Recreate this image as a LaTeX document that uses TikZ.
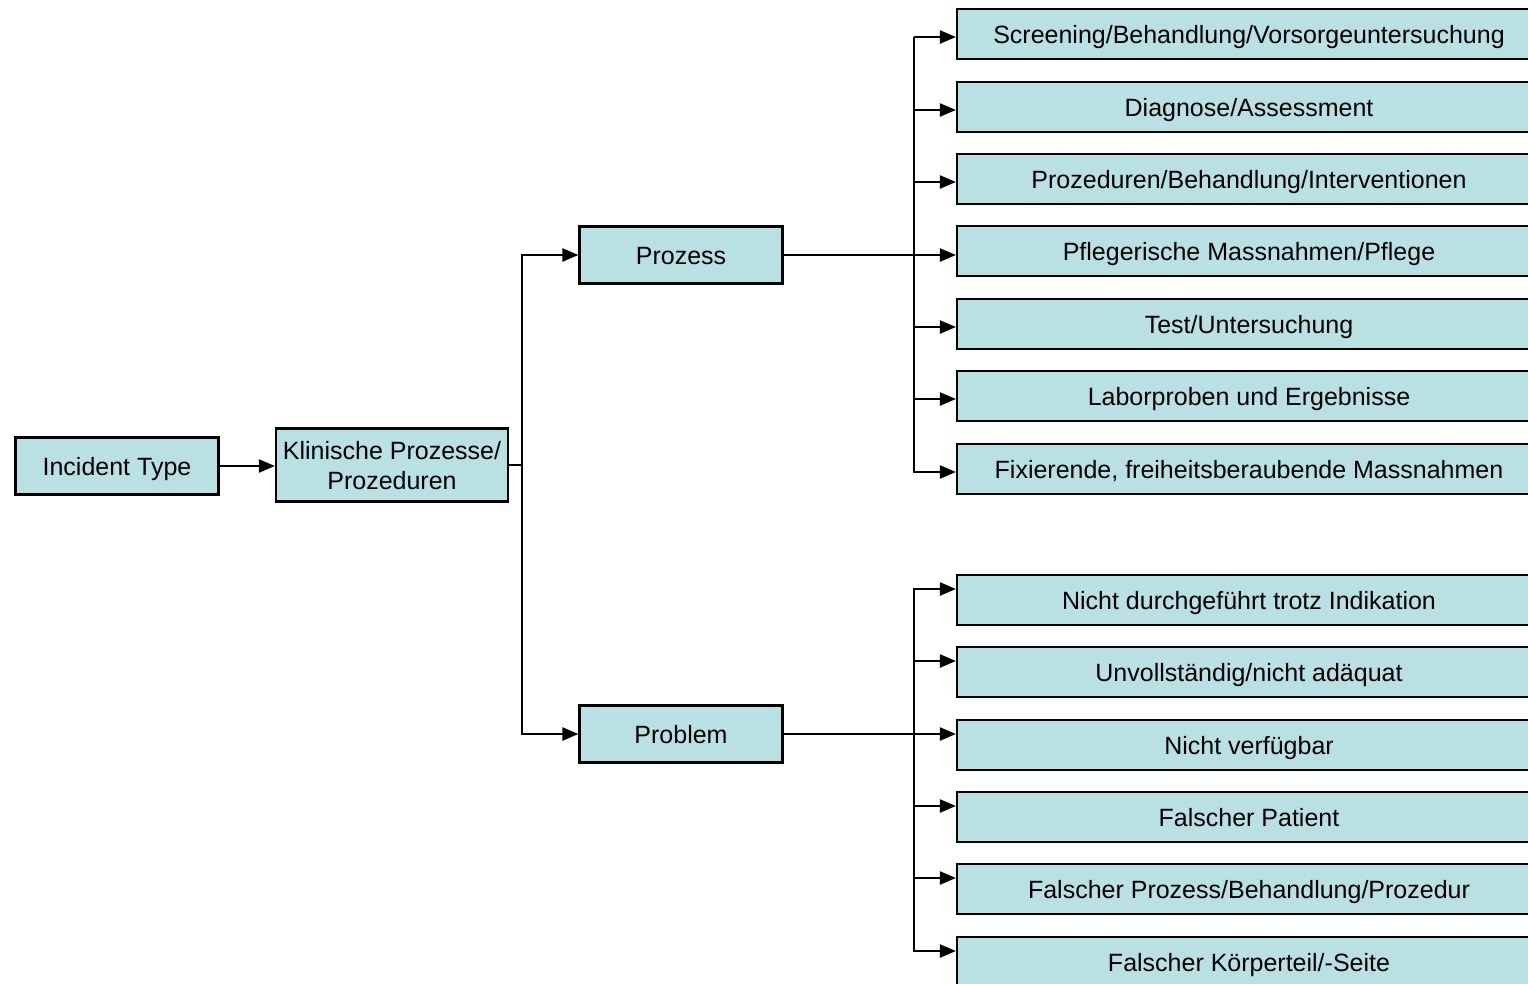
\documentclass[tikz,border=0pt]{standalone}
\usepackage{fontspec}
\setmainfont{Liberation Sans}
\usetikzlibrary{arrows.meta,calc}
\definecolor{boxfill}{RGB}{185,224,227}
\begin{document}
\begin{tikzpicture}[x=1pt,y=-1pt,
  box/.style={draw=black,line width=2.2pt,fill=boxfill,inner sep=0pt,align=center,
    text height=18pt,text depth=0pt,
    font=\fontsize{25pt}{30pt}\selectfont},
  leftbox/.style={box,minimum width=203pt,minimum height=57pt},
  rbox/.style={box,minimum width=584pt,minimum height=50pt},
  conn/.style={line width=2.3pt},
  arr/.style={conn,-{Triangle[length=16pt,width=13pt]}}]
\clip (0,0) rectangle (1528,983);
\fill[white] (0,0) rectangle (1528,983);
% left column
\node[leftbox] (it) at (117,466) {Incident Type};
\node[box,minimum width=232pt,minimum height=73pt,text height=48pt] (kp) at (392,465) {Klinische Prozesse/\\Prozeduren};
\node[leftbox] (pz) at (681,255) {Prozess};
\node[leftbox] (pb) at (681,734) {Problem};
% right column (process)
\node[rbox] (a1) at (1249,34) {Screening/Behandlung/Vorsorgeuntersuchung};
\node[rbox] (a2) at (1249,107) {Diagnose/Assessment};
\node[rbox] (a3) at (1249,179) {Prozeduren/Behandlung/Interventionen};
\node[rbox] (a4) at (1249,251) {Pflegerische Massnahmen/Pflege};
\node[rbox] (a5) at (1249,324) {Test/Untersuchung};
\node[rbox] (a6) at (1249,396) {Laborproben und Ergebnisse};
\node[rbox] (a7) at (1249,469) {Fixierende, freiheitsberaubende Massnahmen};
% right column (problem)
\node[rbox] (b1) at (1249,600) {Nicht durchgeführt trotz Indikation};
\node[rbox] (b2) at (1249,672) {Unvollständig/nicht adäquat};
\node[rbox] (b3) at (1249,745) {Nicht verfügbar};
\node[rbox] (b4) at (1249,817) {Falscher Patient};
\node[rbox] (b5) at (1249,889) {Falscher Prozess/Behandlung/Prozedur};
\node[rbox] (b6) at (1249,962) {Falscher Körperteil/-Seite};
% trunks
\coordinate (t1) at (522,255);
\coordinate (t2) at (522,734);
\coordinate (va) at (914,38);
\coordinate (vb) at (914,472);
\coordinate (vc) at (914,589);
\coordinate (vd) at (914,951);
% arrow end points on the boxes
\foreach \n in {a1,a2,a3,a4,a5,a6,a7}{
  \path ($(\n.west)+(0,3)$) coordinate (e\n);
}
\foreach \n in {b1,b2,b3,b4,b5,b6}{
  \path ($(\n.west)+(0,-11)$) coordinate (e\n);
}
% connectors
\draw[arr] (it.east) -- (it.east -| kp.west);
\draw[conn] (kp.east) -- (kp.east -| t1);
\draw[conn,line cap=rect] (t1) -- (t2);
\draw[arr] (t1) -- (pz.west);
\draw[arr] (t2) -- (pb.west);
\draw[arr] (pz.east) -- (pz.east -| ea4);
\draw[arr] (pb.east) -- (pb.east -| eb3);
\draw[conn,line cap=rect] (va) -- (vb);
\draw[conn,line cap=rect] (vc) -- (vd);
\foreach \n in {a1,a2,a3,a5,a6,a7,b1,b2,b4,b5,b6}{
  \draw[arr] (e\n -| va) -- (e\n);
}
\end{tikzpicture}
\end{document}
